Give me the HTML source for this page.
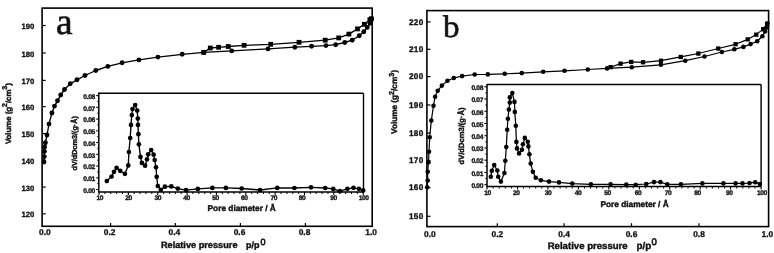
<!DOCTYPE html>
<html><head><meta charset="utf-8"><title>Isotherms</title>
<style>html,body{margin:0;padding:0;background:#fff;width:774px;height:253px;overflow:hidden}svg{display:block}</style>
</head><body>
<svg width="774" height="253" viewBox="0 0 774 253" font-family="Liberation Sans, Arial, sans-serif">
<style>text{stroke:#111;stroke-width:0.4px;fill:#111;text-rendering:geometricPrecision}text.s{stroke-width:0.32px}</style>
<rect width="774" height="253" fill="#fff"/>
<rect x="42.1" y="8.1" width="330.1" height="218.2" fill="none" stroke="#000" stroke-width="1.60"/>
<line x1="42.1" y1="25.5" x2="45.7" y2="25.5" stroke="#000" stroke-width="1.20"/>
<text x="34.3" y="29.1" font-size="7.70" text-anchor="end" font-weight="bold" class="s">190</text>
<line x1="42.1" y1="53.0" x2="45.7" y2="53.0" stroke="#000" stroke-width="1.20"/>
<text x="34.3" y="56.6" font-size="7.70" text-anchor="end" font-weight="bold" class="s">180</text>
<line x1="42.1" y1="80.4" x2="45.7" y2="80.4" stroke="#000" stroke-width="1.20"/>
<text x="34.3" y="84.0" font-size="7.70" text-anchor="end" font-weight="bold" class="s">170</text>
<line x1="42.1" y1="106.6" x2="45.7" y2="106.6" stroke="#000" stroke-width="1.20"/>
<text x="34.3" y="110.2" font-size="7.70" text-anchor="end" font-weight="bold" class="s">160</text>
<line x1="42.1" y1="133.6" x2="45.7" y2="133.6" stroke="#000" stroke-width="1.20"/>
<text x="34.3" y="137.2" font-size="7.70" text-anchor="end" font-weight="bold" class="s">150</text>
<line x1="42.1" y1="160.2" x2="45.7" y2="160.2" stroke="#000" stroke-width="1.20"/>
<text x="34.3" y="163.8" font-size="7.70" text-anchor="end" font-weight="bold" class="s">140</text>
<line x1="42.1" y1="187.1" x2="45.7" y2="187.1" stroke="#000" stroke-width="1.20"/>
<text x="34.3" y="190.7" font-size="7.70" text-anchor="end" font-weight="bold" class="s">130</text>
<line x1="42.1" y1="213.8" x2="45.7" y2="213.8" stroke="#000" stroke-width="1.20"/>
<text x="34.3" y="217.4" font-size="7.70" text-anchor="end" font-weight="bold" class="s">120</text>
<text x="44.9" y="235.2" font-size="8.40" text-anchor="middle" font-weight="bold" class="s">0.0</text>
<line x1="110.6" y1="226.3" x2="110.6" y2="222.9" stroke="#000" stroke-width="1.20"/>
<text x="109.7" y="235.2" font-size="8.40" text-anchor="middle" font-weight="bold" class="s">0.2</text>
<line x1="175.3" y1="226.3" x2="175.3" y2="222.9" stroke="#000" stroke-width="1.20"/>
<text x="174.4" y="235.2" font-size="8.40" text-anchor="middle" font-weight="bold" class="s">0.4</text>
<line x1="240.4" y1="226.3" x2="240.4" y2="222.9" stroke="#000" stroke-width="1.20"/>
<text x="239.5" y="235.2" font-size="8.40" text-anchor="middle" font-weight="bold" class="s">0.6</text>
<line x1="305.4" y1="226.3" x2="305.4" y2="222.9" stroke="#000" stroke-width="1.20"/>
<text x="304.5" y="235.2" font-size="8.40" text-anchor="middle" font-weight="bold" class="s">0.8</text>
<text x="371.2" y="235.2" font-size="8.40" text-anchor="middle" font-weight="bold" class="s">1.0</text>
<polyline points="44.0,162.0 44.3,156.6 44.4,151.4 44.6,147.0 45.4,142.7 47.0,135.0 49.0,124.1 51.9,113.0 54.5,106.1 57.5,100.8 60.7,95.0 64.5,89.5 70.2,83.8 77.0,79.8 85.0,75.5 95.8,70.5 107.8,66.4 122.1,62.8 138.9,59.9 157.9,57.1 182.2,54.3 203.7,52.4 231.7,50.9 268.0,48.9 294.8,47.2 311.6,46.3 325.9,45.6 335.7,44.7 344.8,42.5 352.2,40.2 359.2,35.8 363.8,31.7 367.3,27.4 370.0,23.2 371.5,19.0" fill="none" stroke="#000" stroke-width="1.35" stroke-linejoin="round"/>
<polyline points="371.3,18.8 369.9,19.7 364.4,24.3 357.5,28.9 348.9,34.1 338.7,37.9 325.2,40.2 299.0,42.3 270.7,44.3 244.1,45.3 228.3,46.5 218.6,47.3 210.3,48.0 203.7,52.4" fill="none" stroke="#000" stroke-width="1.35" stroke-linejoin="round"/>
<circle cx="44.0" cy="162.0" r="2.45"/>
<circle cx="44.3" cy="156.6" r="2.45"/>
<circle cx="44.4" cy="151.4" r="2.45"/>
<circle cx="44.6" cy="147.0" r="2.45"/>
<circle cx="45.4" cy="142.7" r="2.45"/>
<circle cx="47.0" cy="135.0" r="2.45"/>
<circle cx="49.0" cy="124.1" r="2.45"/>
<circle cx="51.9" cy="113.0" r="2.45"/>
<circle cx="54.5" cy="106.1" r="2.45"/>
<circle cx="57.5" cy="100.8" r="2.45"/>
<circle cx="60.7" cy="95.0" r="2.45"/>
<circle cx="64.5" cy="89.5" r="2.45"/>
<circle cx="70.2" cy="83.8" r="2.45"/>
<circle cx="77.0" cy="79.8" r="2.45"/>
<circle cx="85.0" cy="75.5" r="2.45"/>
<circle cx="95.8" cy="70.5" r="2.45"/>
<circle cx="107.8" cy="66.4" r="2.45"/>
<circle cx="122.1" cy="62.8" r="2.45"/>
<circle cx="138.9" cy="59.9" r="2.45"/>
<circle cx="157.9" cy="57.1" r="2.45"/>
<circle cx="182.2" cy="54.3" r="2.45"/>
<circle cx="203.7" cy="52.4" r="2.45"/>
<circle cx="231.7" cy="50.9" r="2.45"/>
<circle cx="268.0" cy="48.9" r="2.45"/>
<circle cx="294.8" cy="47.2" r="2.45"/>
<circle cx="311.6" cy="46.3" r="2.45"/>
<circle cx="325.9" cy="45.6" r="2.45"/>
<circle cx="335.7" cy="44.7" r="2.45"/>
<circle cx="344.8" cy="42.5" r="2.45"/>
<circle cx="352.2" cy="40.2" r="2.45"/>
<circle cx="359.2" cy="35.8" r="2.45"/>
<circle cx="363.8" cy="31.7" r="2.45"/>
<circle cx="367.3" cy="27.4" r="2.45"/>
<circle cx="370.0" cy="23.2" r="2.45"/>
<circle cx="371.5" cy="19.0" r="2.45"/>
<rect x="368.9" y="16.4" width="4.8" height="4.8"/>
<rect x="367.5" y="17.3" width="4.8" height="4.8"/>
<rect x="362.0" y="21.9" width="4.8" height="4.8"/>
<rect x="355.1" y="26.5" width="4.8" height="4.8"/>
<rect x="346.5" y="31.7" width="4.8" height="4.8"/>
<rect x="336.3" y="35.5" width="4.8" height="4.8"/>
<rect x="322.8" y="37.8" width="4.8" height="4.8"/>
<rect x="296.6" y="39.9" width="4.8" height="4.8"/>
<rect x="268.3" y="41.9" width="4.8" height="4.8"/>
<rect x="241.7" y="42.9" width="4.8" height="4.8"/>
<rect x="225.9" y="44.1" width="4.8" height="4.8"/>
<rect x="216.2" y="44.9" width="4.8" height="4.8"/>
<rect x="207.9" y="45.6" width="4.8" height="4.8"/>
<rect x="201.3" y="50.0" width="4.8" height="4.8"/>
<line x1="98.8" y1="93.3" x2="363.5" y2="93.3" stroke="#000" stroke-width="1.50"/>
<line x1="98.8" y1="92.6" x2="98.8" y2="192.7" stroke="#000" stroke-width="1.50"/>
<line x1="98.8" y1="192.0" x2="363.5" y2="192.0" stroke="#000" stroke-width="1.50"/>
<line x1="363.5" y1="93.3" x2="363.5" y2="192.0" stroke="#000" stroke-width="1.40"/>
<line x1="96.2" y1="189.5" x2="98.8" y2="189.5" stroke="#000" stroke-width="1.10"/>
<text x="94.9" y="192.7" font-size="6.70" text-anchor="end" font-weight="bold" class="s" letter-spacing="-0.35">0.00</text>
<line x1="97.2" y1="183.6" x2="98.8" y2="183.6" stroke="#000" stroke-width="1.00"/>
<line x1="96.2" y1="177.8" x2="98.8" y2="177.8" stroke="#000" stroke-width="1.10"/>
<text x="94.9" y="181.0" font-size="6.70" text-anchor="end" font-weight="bold" class="s" letter-spacing="-0.35">0.01</text>
<line x1="97.2" y1="171.9" x2="98.8" y2="171.9" stroke="#000" stroke-width="1.00"/>
<line x1="96.2" y1="166.0" x2="98.8" y2="166.0" stroke="#000" stroke-width="1.10"/>
<text x="94.9" y="169.2" font-size="6.70" text-anchor="end" font-weight="bold" class="s" letter-spacing="-0.35">0.02</text>
<line x1="97.2" y1="160.2" x2="98.8" y2="160.2" stroke="#000" stroke-width="1.00"/>
<line x1="96.2" y1="154.3" x2="98.8" y2="154.3" stroke="#000" stroke-width="1.10"/>
<text x="94.9" y="157.5" font-size="6.70" text-anchor="end" font-weight="bold" class="s" letter-spacing="-0.35">0.03</text>
<line x1="97.2" y1="148.4" x2="98.8" y2="148.4" stroke="#000" stroke-width="1.00"/>
<line x1="96.2" y1="142.5" x2="98.8" y2="142.5" stroke="#000" stroke-width="1.10"/>
<text x="94.9" y="145.7" font-size="6.70" text-anchor="end" font-weight="bold" class="s" letter-spacing="-0.35">0.04</text>
<line x1="97.2" y1="136.7" x2="98.8" y2="136.7" stroke="#000" stroke-width="1.00"/>
<line x1="96.2" y1="130.8" x2="98.8" y2="130.8" stroke="#000" stroke-width="1.10"/>
<text x="94.9" y="134.0" font-size="6.70" text-anchor="end" font-weight="bold" class="s" letter-spacing="-0.35">0.05</text>
<line x1="97.2" y1="124.9" x2="98.8" y2="124.9" stroke="#000" stroke-width="1.00"/>
<line x1="96.2" y1="119.1" x2="98.8" y2="119.1" stroke="#000" stroke-width="1.10"/>
<text x="94.9" y="122.3" font-size="6.70" text-anchor="end" font-weight="bold" class="s" letter-spacing="-0.35">0.06</text>
<line x1="97.2" y1="113.2" x2="98.8" y2="113.2" stroke="#000" stroke-width="1.00"/>
<line x1="96.2" y1="107.3" x2="98.8" y2="107.3" stroke="#000" stroke-width="1.10"/>
<text x="94.9" y="110.5" font-size="6.70" text-anchor="end" font-weight="bold" class="s" letter-spacing="-0.35">0.07</text>
<line x1="97.2" y1="101.4" x2="98.8" y2="101.4" stroke="#000" stroke-width="1.00"/>
<line x1="96.2" y1="95.6" x2="98.8" y2="95.6" stroke="#000" stroke-width="1.10"/>
<text x="94.9" y="98.8" font-size="6.70" text-anchor="end" font-weight="bold" class="s" letter-spacing="-0.35">0.08</text>
<line x1="99.0" y1="192.0" x2="99.0" y2="195.0" stroke="#000" stroke-width="1.10"/>
<line x1="104.9" y1="192.0" x2="104.9" y2="194.0" stroke="#000" stroke-width="1.00"/>
<line x1="110.7" y1="192.0" x2="110.7" y2="194.0" stroke="#000" stroke-width="1.00"/>
<line x1="116.6" y1="192.0" x2="116.6" y2="194.0" stroke="#000" stroke-width="1.00"/>
<line x1="122.5" y1="192.0" x2="122.5" y2="194.0" stroke="#000" stroke-width="1.00"/>
<line x1="128.4" y1="192.0" x2="128.4" y2="195.0" stroke="#000" stroke-width="1.10"/>
<line x1="134.2" y1="192.0" x2="134.2" y2="194.0" stroke="#000" stroke-width="1.00"/>
<line x1="140.1" y1="192.0" x2="140.1" y2="194.0" stroke="#000" stroke-width="1.00"/>
<line x1="146.0" y1="192.0" x2="146.0" y2="194.0" stroke="#000" stroke-width="1.00"/>
<line x1="151.8" y1="192.0" x2="151.8" y2="194.0" stroke="#000" stroke-width="1.00"/>
<line x1="157.7" y1="192.0" x2="157.7" y2="195.0" stroke="#000" stroke-width="1.10"/>
<line x1="163.6" y1="192.0" x2="163.6" y2="194.0" stroke="#000" stroke-width="1.00"/>
<line x1="169.5" y1="192.0" x2="169.5" y2="194.0" stroke="#000" stroke-width="1.00"/>
<line x1="175.3" y1="192.0" x2="175.3" y2="194.0" stroke="#000" stroke-width="1.00"/>
<line x1="181.2" y1="192.0" x2="181.2" y2="194.0" stroke="#000" stroke-width="1.00"/>
<line x1="187.1" y1="192.0" x2="187.1" y2="195.0" stroke="#000" stroke-width="1.10"/>
<line x1="192.9" y1="192.0" x2="192.9" y2="194.0" stroke="#000" stroke-width="1.00"/>
<line x1="198.8" y1="192.0" x2="198.8" y2="194.0" stroke="#000" stroke-width="1.00"/>
<line x1="204.7" y1="192.0" x2="204.7" y2="194.0" stroke="#000" stroke-width="1.00"/>
<line x1="210.6" y1="192.0" x2="210.6" y2="194.0" stroke="#000" stroke-width="1.00"/>
<line x1="216.4" y1="192.0" x2="216.4" y2="195.0" stroke="#000" stroke-width="1.10"/>
<line x1="222.3" y1="192.0" x2="222.3" y2="194.0" stroke="#000" stroke-width="1.00"/>
<line x1="228.2" y1="192.0" x2="228.2" y2="194.0" stroke="#000" stroke-width="1.00"/>
<line x1="234.0" y1="192.0" x2="234.0" y2="194.0" stroke="#000" stroke-width="1.00"/>
<line x1="239.9" y1="192.0" x2="239.9" y2="194.0" stroke="#000" stroke-width="1.00"/>
<line x1="245.8" y1="192.0" x2="245.8" y2="195.0" stroke="#000" stroke-width="1.10"/>
<line x1="251.6" y1="192.0" x2="251.6" y2="194.0" stroke="#000" stroke-width="1.00"/>
<line x1="257.5" y1="192.0" x2="257.5" y2="194.0" stroke="#000" stroke-width="1.00"/>
<line x1="263.4" y1="192.0" x2="263.4" y2="194.0" stroke="#000" stroke-width="1.00"/>
<line x1="269.3" y1="192.0" x2="269.3" y2="194.0" stroke="#000" stroke-width="1.00"/>
<line x1="275.1" y1="192.0" x2="275.1" y2="195.0" stroke="#000" stroke-width="1.10"/>
<line x1="281.0" y1="192.0" x2="281.0" y2="194.0" stroke="#000" stroke-width="1.00"/>
<line x1="286.9" y1="192.0" x2="286.9" y2="194.0" stroke="#000" stroke-width="1.00"/>
<line x1="292.7" y1="192.0" x2="292.7" y2="194.0" stroke="#000" stroke-width="1.00"/>
<line x1="298.6" y1="192.0" x2="298.6" y2="194.0" stroke="#000" stroke-width="1.00"/>
<line x1="304.5" y1="192.0" x2="304.5" y2="195.0" stroke="#000" stroke-width="1.10"/>
<line x1="310.4" y1="192.0" x2="310.4" y2="194.0" stroke="#000" stroke-width="1.00"/>
<line x1="316.2" y1="192.0" x2="316.2" y2="194.0" stroke="#000" stroke-width="1.00"/>
<line x1="322.1" y1="192.0" x2="322.1" y2="194.0" stroke="#000" stroke-width="1.00"/>
<line x1="328.0" y1="192.0" x2="328.0" y2="194.0" stroke="#000" stroke-width="1.00"/>
<line x1="333.8" y1="192.0" x2="333.8" y2="195.0" stroke="#000" stroke-width="1.10"/>
<line x1="339.7" y1="192.0" x2="339.7" y2="194.0" stroke="#000" stroke-width="1.00"/>
<line x1="345.6" y1="192.0" x2="345.6" y2="194.0" stroke="#000" stroke-width="1.00"/>
<line x1="351.5" y1="192.0" x2="351.5" y2="194.0" stroke="#000" stroke-width="1.00"/>
<line x1="357.3" y1="192.0" x2="357.3" y2="194.0" stroke="#000" stroke-width="1.00"/>
<line x1="363.2" y1="192.0" x2="363.2" y2="195.0" stroke="#000" stroke-width="1.10"/>
<text x="99.8" y="200.0" font-size="6.70" text-anchor="middle" font-weight="bold" class="s" letter-spacing="-0.5">10</text>
<text x="128.6" y="200.0" font-size="6.70" text-anchor="middle" font-weight="bold" class="s" letter-spacing="-0.5">20</text>
<text x="157.8" y="200.0" font-size="6.70" text-anchor="middle" font-weight="bold" class="s" letter-spacing="-0.5">30</text>
<text x="186.6" y="200.0" font-size="6.70" text-anchor="middle" font-weight="bold" class="s" letter-spacing="-0.5">40</text>
<text x="215.4" y="200.0" font-size="6.70" text-anchor="middle" font-weight="bold" class="s" letter-spacing="-0.5">50</text>
<text x="244.2" y="200.0" font-size="6.70" text-anchor="middle" font-weight="bold" class="s" letter-spacing="-0.5">60</text>
<text x="273.8" y="200.0" font-size="6.70" text-anchor="middle" font-weight="bold" class="s" letter-spacing="-0.5">70</text>
<text x="302.1" y="200.0" font-size="6.70" text-anchor="middle" font-weight="bold" class="s" letter-spacing="-0.5">80</text>
<text x="333.4" y="200.0" font-size="6.70" text-anchor="middle" font-weight="bold" class="s" letter-spacing="-0.5">90</text>
<text x="363.6" y="200.0" font-size="6.70" text-anchor="middle" font-weight="bold" class="s" letter-spacing="-0.5">100</text>
<polyline points="106.8,181.1 111.6,176.5 114.0,171.8 116.6,167.8 120.2,170.8 124.9,173.8 128.3,165.4 128.9,152.0 130.2,138.0 131.0,124.9 131.8,115.1 132.5,109.1 135.2,105.0 137.2,110.6 137.8,118.6 138.0,124.9 138.4,134.2 138.9,144.3 140.5,156.9 141.9,162.9 145.1,165.7 147.0,159.3 148.2,154.3 151.2,150.0 153.6,154.7 154.7,160.0 156.0,167.3 156.7,176.8 157.8,186.0 160.8,189.8 164.9,186.7 171.3,186.4 177.8,188.6 186.0,190.1 197.8,188.9 212.4,187.9 225.9,187.9 241.7,188.5 260.1,190.0 277.3,187.9 294.4,188.0 311.0,187.3 325.2,188.0 333.2,188.9 339.9,191.2 347.4,188.8 353.5,187.8 358.9,188.8 363.2,190.4" fill="none" stroke="#000" stroke-width="1.35" stroke-linejoin="round"/>
<circle cx="106.8" cy="181.1" r="2.35"/>
<circle cx="111.6" cy="176.5" r="2.35"/>
<circle cx="114.0" cy="171.8" r="2.35"/>
<circle cx="116.6" cy="167.8" r="2.35"/>
<circle cx="120.2" cy="170.8" r="2.35"/>
<circle cx="124.9" cy="173.8" r="2.35"/>
<circle cx="128.3" cy="165.4" r="2.35"/>
<circle cx="128.9" cy="152.0" r="2.35"/>
<circle cx="130.2" cy="138.0" r="2.35"/>
<circle cx="131.0" cy="124.9" r="2.35"/>
<circle cx="131.8" cy="115.1" r="2.35"/>
<circle cx="132.5" cy="109.1" r="2.35"/>
<circle cx="135.2" cy="105.0" r="2.35"/>
<circle cx="137.2" cy="110.6" r="2.35"/>
<circle cx="137.8" cy="118.6" r="2.35"/>
<circle cx="138.0" cy="124.9" r="2.35"/>
<circle cx="138.4" cy="134.2" r="2.35"/>
<circle cx="138.9" cy="144.3" r="2.35"/>
<circle cx="140.5" cy="156.9" r="2.35"/>
<circle cx="141.9" cy="162.9" r="2.35"/>
<circle cx="145.1" cy="165.7" r="2.35"/>
<circle cx="147.0" cy="159.3" r="2.35"/>
<circle cx="148.2" cy="154.3" r="2.35"/>
<circle cx="151.2" cy="150.0" r="2.35"/>
<circle cx="153.6" cy="154.7" r="2.35"/>
<circle cx="154.7" cy="160.0" r="2.35"/>
<circle cx="156.0" cy="167.3" r="2.35"/>
<circle cx="156.7" cy="176.8" r="2.35"/>
<circle cx="157.8" cy="186.0" r="2.35"/>
<circle cx="160.8" cy="189.8" r="2.35"/>
<circle cx="164.9" cy="186.7" r="2.35"/>
<circle cx="171.3" cy="186.4" r="2.35"/>
<circle cx="177.8" cy="188.6" r="2.35"/>
<circle cx="186.0" cy="190.1" r="2.35"/>
<circle cx="197.8" cy="188.9" r="2.35"/>
<circle cx="212.4" cy="187.9" r="2.35"/>
<circle cx="225.9" cy="187.9" r="2.35"/>
<circle cx="241.7" cy="188.5" r="2.35"/>
<circle cx="260.1" cy="190.0" r="2.35"/>
<circle cx="277.3" cy="187.9" r="2.35"/>
<circle cx="294.4" cy="188.0" r="2.35"/>
<circle cx="311.0" cy="187.3" r="2.35"/>
<circle cx="325.2" cy="188.0" r="2.35"/>
<circle cx="333.2" cy="188.9" r="2.35"/>
<circle cx="339.9" cy="191.2" r="2.35"/>
<circle cx="347.4" cy="188.8" r="2.35"/>
<circle cx="353.5" cy="187.8" r="2.35"/>
<circle cx="358.9" cy="188.8" r="2.35"/>
<circle cx="363.2" cy="190.4" r="2.35"/>
<text x="241.7" y="211.1" font-size="8.30" text-anchor="middle" font-weight="bold" fill="#111">Pore diameter / Å</text>
<text transform="translate(76.6,143.3) rotate(-90)" font-size="7.25" text-anchor="middle" font-weight="bold" fill="#111">dV/dDcm3/(g·Å)</text>
<text x="55.9" y="33.5" font-family="Liberation Serif, Times New Roman, serif" font-size="37.4" style="stroke:#111;stroke-width:0.6px" fill="#111">a</text>
<text x="160.9" y="248.3" font-size="9.2" font-weight="bold" fill="#111">Relative pressure</text>
<text x="246.1" y="248.2" font-size="9.0" font-weight="bold" fill="#111">p/p</text>
<text x="260.4" y="244.7" font-size="9.0" style="stroke-width:0.6px" fill="#111">0</text>
<text transform="translate(10.6,113.6) rotate(-90)" font-size="7.8" text-anchor="middle" font-weight="bold" fill="#111">Volume (g<tspan font-size="7" dy="-3.2">2</tspan><tspan dy="3.2">/cm</tspan><tspan font-size="7" dy="-3.2">3</tspan><tspan dy="3.2">)</tspan></text>
<rect x="426.9" y="10.6" width="341.7" height="216.0" fill="none" stroke="#000" stroke-width="1.60"/>
<line x1="426.9" y1="21.9" x2="430.5" y2="21.9" stroke="#000" stroke-width="1.20"/>
<text x="423.6" y="24.6" font-size="8.20" text-anchor="end" font-weight="bold" letter-spacing="0.35" class="s">220</text>
<line x1="426.9" y1="49.3" x2="430.5" y2="49.3" stroke="#000" stroke-width="1.20"/>
<text x="423.6" y="52.0" font-size="8.20" text-anchor="end" font-weight="bold" letter-spacing="0.35" class="s">210</text>
<line x1="426.9" y1="76.6" x2="430.5" y2="76.6" stroke="#000" stroke-width="1.20"/>
<text x="423.6" y="79.3" font-size="8.20" text-anchor="end" font-weight="bold" letter-spacing="0.35" class="s">200</text>
<line x1="426.9" y1="105.0" x2="430.5" y2="105.0" stroke="#000" stroke-width="1.20"/>
<text x="423.6" y="107.7" font-size="8.20" text-anchor="end" font-weight="bold" letter-spacing="0.35" class="s">190</text>
<line x1="426.9" y1="133.0" x2="430.5" y2="133.0" stroke="#000" stroke-width="1.20"/>
<text x="423.6" y="135.7" font-size="8.20" text-anchor="end" font-weight="bold" letter-spacing="0.35" class="s">180</text>
<line x1="426.9" y1="160.5" x2="430.5" y2="160.5" stroke="#000" stroke-width="1.20"/>
<text x="423.6" y="163.2" font-size="8.20" text-anchor="end" font-weight="bold" letter-spacing="0.35" class="s">170</text>
<line x1="426.9" y1="187.6" x2="430.5" y2="187.6" stroke="#000" stroke-width="1.20"/>
<text x="423.6" y="190.3" font-size="8.20" text-anchor="end" font-weight="bold" letter-spacing="0.35" class="s">160</text>
<line x1="426.9" y1="216.3" x2="430.5" y2="216.3" stroke="#000" stroke-width="1.20"/>
<text x="423.6" y="219.0" font-size="8.20" text-anchor="end" font-weight="bold" letter-spacing="0.35" class="s">150</text>
<text x="429.8" y="236.5" font-size="8.40" text-anchor="middle" font-weight="bold" class="s">0.0</text>
<line x1="497.3" y1="226.6" x2="497.3" y2="223.2" stroke="#000" stroke-width="1.20"/>
<text x="497.3" y="236.5" font-size="8.40" text-anchor="middle" font-weight="bold" class="s">0.2</text>
<line x1="564.1" y1="226.6" x2="564.1" y2="223.2" stroke="#000" stroke-width="1.20"/>
<text x="564.1" y="236.5" font-size="8.40" text-anchor="middle" font-weight="bold" class="s">0.4</text>
<line x1="631.5" y1="226.6" x2="631.5" y2="223.2" stroke="#000" stroke-width="1.20"/>
<text x="631.5" y="236.5" font-size="8.40" text-anchor="middle" font-weight="bold" class="s">0.6</text>
<line x1="699.0" y1="226.6" x2="699.0" y2="223.2" stroke="#000" stroke-width="1.20"/>
<text x="699.0" y="236.5" font-size="8.40" text-anchor="middle" font-weight="bold" class="s">0.8</text>
<text x="767.4" y="236.5" font-size="8.40" text-anchor="middle" font-weight="bold" class="s">1.0</text>
<polyline points="427.2,187.2 427.7,180.5 427.7,171.7 428.5,162.2 429.0,151.7 429.7,137.2 431.3,120.6 433.5,105.7 435.1,96.7 437.7,90.7 441.9,85.6 447.5,80.8 453.8,78.0 462.1,76.1 474.7,74.5 487.8,74.4 504.7,73.8 521.8,73.1 543.2,71.8 564.5,70.8 587.8,69.5 607.1,68.4 631.8,67.2 660.9,64.8 685.3,60.7 704.5,56.5 721.9,52.0 734.3,49.3 743.4,46.9 750.6,44.1 757.2,41.2 762.4,36.2 765.1,31.4 766.7,27.4 767.2,23.5" fill="none" stroke="#000" stroke-width="1.20" stroke-linejoin="round"/>
<polyline points="767.2,23.8 763.2,29.1 756.2,34.6 747.8,39.4 735.5,44.3 718.2,48.5 698.4,53.5 680.7,56.9 660.9,60.7 643.0,62.3 631.1,61.9 620.5,63.6 610.6,67.2 607.1,68.4" fill="none" stroke="#000" stroke-width="1.20" stroke-linejoin="round"/>
<circle cx="427.2" cy="187.2" r="2.30"/>
<circle cx="427.7" cy="180.5" r="2.30"/>
<circle cx="427.7" cy="171.7" r="2.30"/>
<circle cx="428.5" cy="162.2" r="2.30"/>
<circle cx="429.0" cy="151.7" r="2.30"/>
<circle cx="429.7" cy="137.2" r="2.30"/>
<circle cx="431.3" cy="120.6" r="2.30"/>
<circle cx="433.5" cy="105.7" r="2.30"/>
<circle cx="435.1" cy="96.7" r="2.30"/>
<circle cx="437.7" cy="90.7" r="2.30"/>
<circle cx="441.9" cy="85.6" r="2.30"/>
<circle cx="447.5" cy="80.8" r="2.30"/>
<circle cx="453.8" cy="78.0" r="2.30"/>
<circle cx="462.1" cy="76.1" r="2.30"/>
<circle cx="474.7" cy="74.5" r="2.30"/>
<circle cx="487.8" cy="74.4" r="2.30"/>
<circle cx="504.7" cy="73.8" r="2.30"/>
<circle cx="521.8" cy="73.1" r="2.30"/>
<circle cx="543.2" cy="71.8" r="2.30"/>
<circle cx="564.5" cy="70.8" r="2.30"/>
<circle cx="587.8" cy="69.5" r="2.30"/>
<circle cx="607.1" cy="68.4" r="2.30"/>
<circle cx="631.8" cy="67.2" r="2.30"/>
<circle cx="660.9" cy="64.8" r="2.30"/>
<circle cx="685.3" cy="60.7" r="2.30"/>
<circle cx="704.5" cy="56.5" r="2.30"/>
<circle cx="721.9" cy="52.0" r="2.30"/>
<circle cx="734.3" cy="49.3" r="2.30"/>
<circle cx="743.4" cy="46.9" r="2.30"/>
<circle cx="750.6" cy="44.1" r="2.30"/>
<circle cx="757.2" cy="41.2" r="2.30"/>
<circle cx="762.4" cy="36.2" r="2.30"/>
<circle cx="765.1" cy="31.4" r="2.30"/>
<circle cx="766.7" cy="27.4" r="2.30"/>
<circle cx="767.2" cy="23.5" r="2.30"/>
<rect x="765.1" y="21.7" width="4.3" height="4.3"/>
<rect x="761.1" y="27.0" width="4.3" height="4.3"/>
<rect x="754.1" y="32.5" width="4.3" height="4.3"/>
<rect x="745.6" y="37.2" width="4.3" height="4.3"/>
<rect x="733.4" y="42.1" width="4.3" height="4.3"/>
<rect x="716.1" y="46.4" width="4.3" height="4.3"/>
<rect x="696.2" y="51.4" width="4.3" height="4.3"/>
<rect x="678.6" y="54.8" width="4.3" height="4.3"/>
<rect x="658.8" y="58.6" width="4.3" height="4.3"/>
<rect x="640.9" y="60.1" width="4.3" height="4.3"/>
<rect x="629.0" y="59.8" width="4.3" height="4.3"/>
<rect x="618.4" y="61.5" width="4.3" height="4.3"/>
<rect x="608.5" y="65.0" width="4.3" height="4.3"/>
<line x1="487.0" y1="84.6" x2="761.1" y2="84.6" stroke="#000" stroke-width="1.50"/>
<line x1="487.0" y1="83.9" x2="487.0" y2="187.2" stroke="#000" stroke-width="1.50"/>
<line x1="487.0" y1="186.5" x2="761.1" y2="186.5" stroke="#000" stroke-width="1.50"/>
<line x1="761.1" y1="84.6" x2="761.1" y2="186.5" stroke="#000" stroke-width="1.40"/>
<line x1="484.4" y1="184.7" x2="487.0" y2="184.7" stroke="#000" stroke-width="1.10"/>
<text x="483.1" y="187.9" font-size="6.70" text-anchor="end" font-weight="bold" class="s" letter-spacing="-0.35">0.00</text>
<line x1="485.4" y1="178.6" x2="487.0" y2="178.6" stroke="#000" stroke-width="1.00"/>
<line x1="484.4" y1="172.5" x2="487.0" y2="172.5" stroke="#000" stroke-width="1.10"/>
<text x="483.1" y="175.7" font-size="6.70" text-anchor="end" font-weight="bold" class="s" letter-spacing="-0.35">0.01</text>
<line x1="485.4" y1="166.3" x2="487.0" y2="166.3" stroke="#000" stroke-width="1.00"/>
<line x1="484.4" y1="160.2" x2="487.0" y2="160.2" stroke="#000" stroke-width="1.10"/>
<text x="483.1" y="163.4" font-size="6.70" text-anchor="end" font-weight="bold" class="s" letter-spacing="-0.35">0.02</text>
<line x1="485.4" y1="154.1" x2="487.0" y2="154.1" stroke="#000" stroke-width="1.00"/>
<line x1="484.4" y1="148.0" x2="487.0" y2="148.0" stroke="#000" stroke-width="1.10"/>
<text x="483.1" y="151.2" font-size="6.70" text-anchor="end" font-weight="bold" class="s" letter-spacing="-0.35">0.03</text>
<line x1="485.4" y1="141.9" x2="487.0" y2="141.9" stroke="#000" stroke-width="1.00"/>
<line x1="484.4" y1="135.7" x2="487.0" y2="135.7" stroke="#000" stroke-width="1.10"/>
<text x="483.1" y="138.9" font-size="6.70" text-anchor="end" font-weight="bold" class="s" letter-spacing="-0.35">0.04</text>
<line x1="485.4" y1="129.6" x2="487.0" y2="129.6" stroke="#000" stroke-width="1.00"/>
<line x1="484.4" y1="123.5" x2="487.0" y2="123.5" stroke="#000" stroke-width="1.10"/>
<text x="483.1" y="126.7" font-size="6.70" text-anchor="end" font-weight="bold" class="s" letter-spacing="-0.35">0.05</text>
<line x1="485.4" y1="117.4" x2="487.0" y2="117.4" stroke="#000" stroke-width="1.00"/>
<line x1="484.4" y1="111.3" x2="487.0" y2="111.3" stroke="#000" stroke-width="1.10"/>
<text x="483.1" y="114.5" font-size="6.70" text-anchor="end" font-weight="bold" class="s" letter-spacing="-0.35">0.06</text>
<line x1="485.4" y1="105.1" x2="487.0" y2="105.1" stroke="#000" stroke-width="1.00"/>
<line x1="484.4" y1="99.0" x2="487.0" y2="99.0" stroke="#000" stroke-width="1.10"/>
<text x="483.1" y="102.2" font-size="6.70" text-anchor="end" font-weight="bold" class="s" letter-spacing="-0.35">0.07</text>
<line x1="485.4" y1="92.9" x2="487.0" y2="92.9" stroke="#000" stroke-width="1.00"/>
<line x1="484.4" y1="86.8" x2="487.0" y2="86.8" stroke="#000" stroke-width="1.10"/>
<text x="483.1" y="90.0" font-size="6.70" text-anchor="end" font-weight="bold" class="s" letter-spacing="-0.35">0.08</text>
<line x1="487.0" y1="186.5" x2="487.0" y2="189.5" stroke="#000" stroke-width="1.10"/>
<line x1="493.1" y1="186.5" x2="493.1" y2="188.5" stroke="#000" stroke-width="1.00"/>
<line x1="499.2" y1="186.5" x2="499.2" y2="188.5" stroke="#000" stroke-width="1.00"/>
<line x1="505.3" y1="186.5" x2="505.3" y2="188.5" stroke="#000" stroke-width="1.00"/>
<line x1="511.4" y1="186.5" x2="511.4" y2="188.5" stroke="#000" stroke-width="1.00"/>
<line x1="517.5" y1="186.5" x2="517.5" y2="189.5" stroke="#000" stroke-width="1.10"/>
<line x1="523.5" y1="186.5" x2="523.5" y2="188.5" stroke="#000" stroke-width="1.00"/>
<line x1="529.6" y1="186.5" x2="529.6" y2="188.5" stroke="#000" stroke-width="1.00"/>
<line x1="535.7" y1="186.5" x2="535.7" y2="188.5" stroke="#000" stroke-width="1.00"/>
<line x1="541.8" y1="186.5" x2="541.8" y2="188.5" stroke="#000" stroke-width="1.00"/>
<line x1="547.9" y1="186.5" x2="547.9" y2="189.5" stroke="#000" stroke-width="1.10"/>
<line x1="554.0" y1="186.5" x2="554.0" y2="188.5" stroke="#000" stroke-width="1.00"/>
<line x1="560.1" y1="186.5" x2="560.1" y2="188.5" stroke="#000" stroke-width="1.00"/>
<line x1="566.2" y1="186.5" x2="566.2" y2="188.5" stroke="#000" stroke-width="1.00"/>
<line x1="572.3" y1="186.5" x2="572.3" y2="188.5" stroke="#000" stroke-width="1.00"/>
<line x1="578.4" y1="186.5" x2="578.4" y2="189.5" stroke="#000" stroke-width="1.10"/>
<line x1="584.5" y1="186.5" x2="584.5" y2="188.5" stroke="#000" stroke-width="1.00"/>
<line x1="590.5" y1="186.5" x2="590.5" y2="188.5" stroke="#000" stroke-width="1.00"/>
<line x1="596.6" y1="186.5" x2="596.6" y2="188.5" stroke="#000" stroke-width="1.00"/>
<line x1="602.7" y1="186.5" x2="602.7" y2="188.5" stroke="#000" stroke-width="1.00"/>
<line x1="608.8" y1="186.5" x2="608.8" y2="189.5" stroke="#000" stroke-width="1.10"/>
<line x1="614.9" y1="186.5" x2="614.9" y2="188.5" stroke="#000" stroke-width="1.00"/>
<line x1="621.0" y1="186.5" x2="621.0" y2="188.5" stroke="#000" stroke-width="1.00"/>
<line x1="627.1" y1="186.5" x2="627.1" y2="188.5" stroke="#000" stroke-width="1.00"/>
<line x1="633.2" y1="186.5" x2="633.2" y2="188.5" stroke="#000" stroke-width="1.00"/>
<line x1="639.3" y1="186.5" x2="639.3" y2="189.5" stroke="#000" stroke-width="1.10"/>
<line x1="645.4" y1="186.5" x2="645.4" y2="188.5" stroke="#000" stroke-width="1.00"/>
<line x1="651.5" y1="186.5" x2="651.5" y2="188.5" stroke="#000" stroke-width="1.00"/>
<line x1="657.6" y1="186.5" x2="657.6" y2="188.5" stroke="#000" stroke-width="1.00"/>
<line x1="663.6" y1="186.5" x2="663.6" y2="188.5" stroke="#000" stroke-width="1.00"/>
<line x1="669.7" y1="186.5" x2="669.7" y2="189.5" stroke="#000" stroke-width="1.10"/>
<line x1="675.8" y1="186.5" x2="675.8" y2="188.5" stroke="#000" stroke-width="1.00"/>
<line x1="681.9" y1="186.5" x2="681.9" y2="188.5" stroke="#000" stroke-width="1.00"/>
<line x1="688.0" y1="186.5" x2="688.0" y2="188.5" stroke="#000" stroke-width="1.00"/>
<line x1="694.1" y1="186.5" x2="694.1" y2="188.5" stroke="#000" stroke-width="1.00"/>
<line x1="700.2" y1="186.5" x2="700.2" y2="189.5" stroke="#000" stroke-width="1.10"/>
<line x1="706.3" y1="186.5" x2="706.3" y2="188.5" stroke="#000" stroke-width="1.00"/>
<line x1="712.4" y1="186.5" x2="712.4" y2="188.5" stroke="#000" stroke-width="1.00"/>
<line x1="718.5" y1="186.5" x2="718.5" y2="188.5" stroke="#000" stroke-width="1.00"/>
<line x1="724.6" y1="186.5" x2="724.6" y2="188.5" stroke="#000" stroke-width="1.00"/>
<line x1="730.6" y1="186.5" x2="730.6" y2="189.5" stroke="#000" stroke-width="1.10"/>
<line x1="736.7" y1="186.5" x2="736.7" y2="188.5" stroke="#000" stroke-width="1.00"/>
<line x1="742.8" y1="186.5" x2="742.8" y2="188.5" stroke="#000" stroke-width="1.00"/>
<line x1="748.9" y1="186.5" x2="748.9" y2="188.5" stroke="#000" stroke-width="1.00"/>
<line x1="755.0" y1="186.5" x2="755.0" y2="188.5" stroke="#000" stroke-width="1.00"/>
<line x1="761.1" y1="186.5" x2="761.1" y2="189.5" stroke="#000" stroke-width="1.10"/>
<text x="487.6" y="194.5" font-size="6.70" text-anchor="middle" font-weight="bold" class="s" letter-spacing="-0.5">10</text>
<text x="516.2" y="194.5" font-size="6.70" text-anchor="middle" font-weight="bold" class="s" letter-spacing="-0.5">20</text>
<text x="547.9" y="194.5" font-size="6.70" text-anchor="middle" font-weight="bold" class="s" letter-spacing="-0.5">30</text>
<text x="578.0" y="194.5" font-size="6.70" text-anchor="middle" font-weight="bold" class="s" letter-spacing="-0.5">40</text>
<text x="607.5" y="194.5" font-size="6.70" text-anchor="middle" font-weight="bold" class="s" letter-spacing="-0.5">50</text>
<text x="637.9" y="194.5" font-size="6.70" text-anchor="middle" font-weight="bold" class="s" letter-spacing="-0.5">60</text>
<text x="668.0" y="194.5" font-size="6.70" text-anchor="middle" font-weight="bold" class="s" letter-spacing="-0.5">70</text>
<text x="697.5" y="194.5" font-size="6.70" text-anchor="middle" font-weight="bold" class="s" letter-spacing="-0.5">80</text>
<text x="729.2" y="194.5" font-size="6.70" text-anchor="middle" font-weight="bold" class="s" letter-spacing="-0.5">90</text>
<text x="761.9" y="194.5" font-size="6.70" text-anchor="middle" font-weight="bold" class="s" letter-spacing="-0.5">100</text>
<polyline points="490.8,176.8 491.8,170.8 494.2,165.0 497.3,170.5 498.2,176.8 500.9,181.6 504.4,173.0 505.3,160.7 506.3,147.0 507.2,129.8 507.9,118.8 508.9,109.6 509.8,102.6 509.8,97.4 512.3,93.1 514.5,101.9 514.8,111.9 515.8,125.7 516.4,141.9 517.0,148.4 519.1,153.4 522.0,149.8 522.9,144.2 524.8,137.9 527.8,141.7 528.4,146.4 529.4,154.3 530.7,163.6 532.9,171.8 535.7,177.8 540.9,180.3 549.0,181.6 559.0,182.4 572.3,183.6 590.9,184.3 610.6,184.3 626.3,184.6 635.7,184.7 646.2,184.0 654.0,182.1 660.4,182.1 667.3,184.3 680.9,184.3 702.4,183.4 723.4,183.4 735.6,183.4 742.5,183.4 749.5,183.1 755.2,182.2 759.9,184.0" fill="none" stroke="#000" stroke-width="1.25" stroke-linejoin="round"/>
<circle cx="490.8" cy="176.8" r="2.30"/>
<circle cx="491.8" cy="170.8" r="2.30"/>
<circle cx="494.2" cy="165.0" r="2.30"/>
<circle cx="497.3" cy="170.5" r="2.30"/>
<circle cx="498.2" cy="176.8" r="2.30"/>
<circle cx="500.9" cy="181.6" r="2.30"/>
<circle cx="504.4" cy="173.0" r="2.30"/>
<circle cx="505.3" cy="160.7" r="2.30"/>
<circle cx="506.3" cy="147.0" r="2.30"/>
<circle cx="507.2" cy="129.8" r="2.30"/>
<circle cx="507.9" cy="118.8" r="2.30"/>
<circle cx="508.9" cy="109.6" r="2.30"/>
<circle cx="509.8" cy="102.6" r="2.30"/>
<circle cx="509.8" cy="97.4" r="2.30"/>
<circle cx="512.3" cy="93.1" r="2.30"/>
<circle cx="514.5" cy="101.9" r="2.30"/>
<circle cx="514.8" cy="111.9" r="2.30"/>
<circle cx="515.8" cy="125.7" r="2.30"/>
<circle cx="516.4" cy="141.9" r="2.30"/>
<circle cx="517.0" cy="148.4" r="2.30"/>
<circle cx="519.1" cy="153.4" r="2.30"/>
<circle cx="522.0" cy="149.8" r="2.30"/>
<circle cx="522.9" cy="144.2" r="2.30"/>
<circle cx="524.8" cy="137.9" r="2.30"/>
<circle cx="527.8" cy="141.7" r="2.30"/>
<circle cx="528.4" cy="146.4" r="2.30"/>
<circle cx="529.4" cy="154.3" r="2.30"/>
<circle cx="530.7" cy="163.6" r="2.30"/>
<circle cx="532.9" cy="171.8" r="2.30"/>
<circle cx="535.7" cy="177.8" r="2.30"/>
<circle cx="540.9" cy="180.3" r="2.30"/>
<circle cx="549.0" cy="181.6" r="2.30"/>
<circle cx="559.0" cy="182.4" r="2.30"/>
<circle cx="572.3" cy="183.6" r="2.30"/>
<circle cx="590.9" cy="184.3" r="2.30"/>
<circle cx="610.6" cy="184.3" r="2.30"/>
<circle cx="626.3" cy="184.6" r="2.30"/>
<circle cx="635.7" cy="184.7" r="2.30"/>
<circle cx="646.2" cy="184.0" r="2.30"/>
<circle cx="654.0" cy="182.1" r="2.30"/>
<circle cx="660.4" cy="182.1" r="2.30"/>
<circle cx="667.3" cy="184.3" r="2.30"/>
<circle cx="680.9" cy="184.3" r="2.30"/>
<circle cx="702.4" cy="183.4" r="2.30"/>
<circle cx="723.4" cy="183.4" r="2.30"/>
<circle cx="735.6" cy="183.4" r="2.30"/>
<circle cx="742.5" cy="183.4" r="2.30"/>
<circle cx="749.5" cy="183.1" r="2.30"/>
<circle cx="755.2" cy="182.2" r="2.30"/>
<circle cx="759.9" cy="184.0" r="2.30"/>
<text x="634.6" y="207.3" font-size="8.30" text-anchor="middle" font-weight="bold" fill="#111">Pore diameter / Å</text>
<text transform="translate(464.4,136.0) rotate(-90)" font-size="7.6" text-anchor="middle" font-weight="bold" fill="#111">dV/dDcm3/(g·Å)</text>
<text transform="translate(443.0,36.6) scale(1.06,1)" font-family="Liberation Serif, Times New Roman, serif" font-size="31.2" style="stroke:#111;stroke-width:0.6px" fill="#111">b</text>
<text x="547.7" y="248.7" font-size="9.6" font-weight="bold" fill="#111">Relative pressure</text>
<text x="636.6" y="248.7" font-size="9.8" font-weight="bold" fill="#111">p/p</text>
<text x="651.5" y="244.6" font-size="9.6" style="stroke-width:0.6px" fill="#111">0</text>
<text transform="translate(397.3,102) rotate(-90)" font-size="8.2" text-anchor="middle" font-weight="bold" fill="#111">Volume (g<tspan font-size="7.2" dy="-3.3">2</tspan><tspan dy="3.3">/cm</tspan><tspan font-size="7.2" dy="-3.3">3</tspan><tspan dy="3.3">)</tspan></text>
</svg>
</body></html>
